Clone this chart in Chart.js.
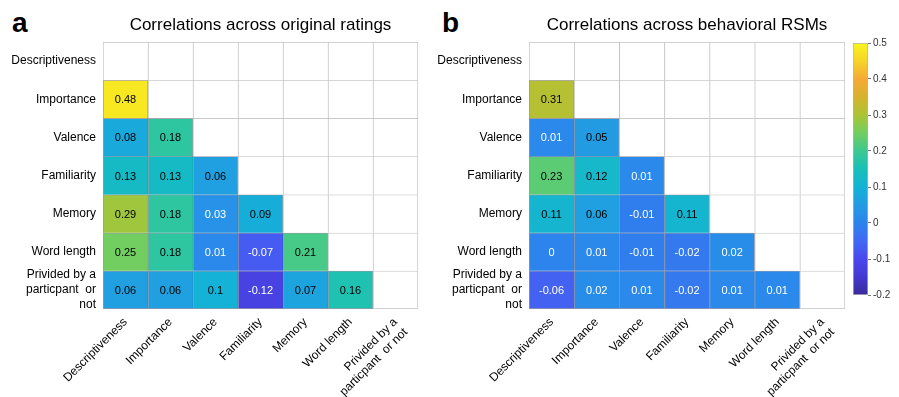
<!DOCTYPE html>
<html>
<head>
<meta charset="utf-8">
<script src="https://cdn.jsdelivr.net/npm/chart.js@4.4.0/dist/chart.umd.min.js"></script>
<style>
  body { margin: 0; background: #fff; width: 899px; height: 397px; position: relative; overflow: hidden;
         font-family: "Liberation Sans", Arial, sans-serif; }
  .box { position: absolute; }
  .letter { position: absolute; font-size: 28px; font-weight: bold; line-height: 28px; color: #000; }
</style>
</head>
<body>
<div class="letter" style="left:12px;top:9px">a</div>
<div class="letter" style="left:442px;top:9px">b</div>
<div class="box" style="left:0;top:0;width:430px;height:397px"><canvas id="chart-a"></canvas></div>
<div class="box" style="left:430px;top:0;width:425px;height:397px"><canvas id="chart-b"></canvas></div>
<div class="box" style="left:840px;top:30px;width:59px;height:280px"><canvas id="chart-cbar"></canvas></div>
<script>
var rowLabels = ['Descriptiveness', 'Importance', 'Valence', 'Familiarity', 'Memory', 'Word length',
    ['Privided by a', 'particpant  or', 'not']];
var colLabels = ['Descriptiveness', 'Importance', 'Valence', 'Familiarity', 'Memory', 'Word length',
    ['Privided by a', 'particpant  or not']];

// lower triangle only, row i has i values
var ratingsCorr = [
    [],
    [0.48],
    [0.08, 0.18],
    [0.13, 0.13, 0.06],
    [0.29, 0.18, 0.03, 0.09],
    [0.25, 0.18, 0.01, -0.07, 0.21],
    [0.06, 0.06, 0.1, -0.12, 0.07, 0.16]
];
var rsmCorr = [
    [],
    [0.31],
    [0.01, 0.05],
    [0.23, 0.12, 0.01],
    [0.11, 0.06, -0.01, 0.11],
    [0, 0.01, -0.01, -0.02, 0.02],
    [-0.06, 0.02, 0.01, -0.02, 0.01, 0.01]
];

var cbarTicks = [-0.2, -0.1, 0, 0.1, 0.2, 0.3, 0.4, 0.5];
var cmin = -0.2, cmax = 0.5;

// parula-like colour stops [value, r, g, b]
var cmapStops = [
    [-0.2, 58, 42, 152], [-0.15, 68, 56, 210], [-0.1, 74, 72, 236], [-0.05, 66, 104, 244],
    [0, 44, 132, 236], [0.05, 35, 155, 227], [0.1, 20, 178, 214], [0.15, 24, 192, 184],
    [0.2, 60, 200, 145], [0.25, 114, 206, 96], [0.3, 172, 196, 52], [0.35, 215, 178, 46],
    [0.4, 245, 170, 52], [0.45, 246, 212, 40], [0.5, 248, 245, 30]
];

function colour(v) {
    if (v <= cmapStops[0][0]) v = cmapStops[0][0];
    for (var i = 1; i < cmapStops.length; i++) {
        var a = cmapStops[i - 1], b = cmapStops[i];
        if (v <= b[0] || i === cmapStops.length - 1) {
            var t = Math.min(1, (v - a[0]) / (b[0] - a[0]));
            return 'rgb(' + Math.round(a[1] + (b[1] - a[1]) * t) + ',' + Math.round(a[2] + (b[2] - a[2]) * t) + ',' + Math.round(a[3] + (b[3] - a[3]) * t) + ')';
        }
    }
}

Chart.defaults.font.family = '"Liberation Sans", Arial, sans-serif';
Chart.defaults.color = '#000';
Chart.defaults.plugins.tooltip.enabled = false;
Chart.defaults.plugins.legend.display = false;

// writes the value in the middle of every coloured cell
var cellText = {
    id: 'cellText',
    afterDatasetsDraw: function (chart) {
        var ctx = chart.ctx;
        ctx.save();
        ctx.font = '11px "Liberation Sans", Arial, sans-serif';
        ctx.textAlign = 'center';
        ctx.textBaseline = 'middle';
        chart.data.datasets.forEach(function (ds, i) {
            if (!ds.values) return;
            chart.getDatasetMeta(i).data.forEach(function (bar, c) {
                var v = ds.values[c];
                if (v === undefined) return;
                var p = bar.getCenterPoint();
                ctx.fillStyle = v < 0.04 ? '#fff' : '#000';
                ctx.fillText(String(v), p.x, p.y + 1);
            });
        });
        ctx.restore();
    }
};

function buildDatasets(vals) {
    var n = colLabels.length;
    var sets = [];
    // blank cells first so the darker borders of coloured cells end up on top
    for (var r = 0; r < n; r++) {
        var d = [];
        for (var c = 0; c < n; c++) d.push(c >= r ? [r, r + 1] : null);
        sets.push({
            data: d,
            backgroundColor: '#fff',
            borderColor: '#c2c2c2',
            borderWidth: (function (row) {
                return function (ctx) {
                    return { left: 1, top: 1, right: ctx.dataIndex === n - 1 ? 1 : 0, bottom: row === n - 1 ? 1 : 0 };
                };
            })(r)
        });
    }
    for (var r = 1; r < n; r++) {
        var d = [], bg = [];
        for (var c = 0; c < n; c++) {
            d.push(c < r ? [r, r + 1] : null);
            bg.push(c < r ? colour(vals[r][c]) : 'transparent');
        }
        sets.push({
            data: d,
            values: vals[r],
            backgroundColor: bg,
            borderColor: 'rgba(30,30,60,0.45)',
            borderWidth: (function (row) {
                return function (ctx) {
                    return { left: 1, top: 1, right: ctx.dataIndex === row - 1 ? 1 : 0, bottom: row === n - 1 ? 1 : 0 };
                };
            })(r)
        });
    }
    sets.forEach(function (s) {
        s.grouped = false;
        s.borderSkipped = false;
        s.barPercentage = 1;
        s.categoryPercentage = 1;
    });
    return sets;
}

function heatmap(id, title, vals, yWidth, padRight) {
    return new Chart(document.getElementById(id), {
        type: 'bar',
        data: { labels: colLabels, datasets: buildDatasets(vals) },
        plugins: [cellText],
        options: {
            responsive: true,
            maintainAspectRatio: false,
            animation: false,
            layout: { padding: { top: 15, right: padRight, left: 0, bottom: 0 } },
            plugins: {
                title: {
                    display: true,
                    text: title,
                    fullSize: false,
                    color: '#000',
                    font: { size: 17, weight: 'normal' },
                    padding: { top: 0, bottom: 6.6 }
                }
            },
            scales: {
                x: {
                    grid: { display: false, drawTicks: false },
                    border: { display: false },
                    ticks: { minRotation: 45, maxRotation: 45, autoSkip: false, padding: 6, font: { size: 12 } },
                    afterFit: function (s) { s.height = 88; }
                },
                y: {
                    type: 'linear',
                    min: 0,
                    max: rowLabels.length,
                    reverse: true,
                    grid: { display: false, drawTicks: false },
                    border: { display: false },
                    afterBuildTicks: function (s) {
                        s.ticks = rowLabels.map(function (l, i) { return { value: i + 0.5 }; });
                    },
                    ticks: {
                        autoSkip: false,
                        padding: 7,
                        font: { size: 12, lineHeight: 1.25 },
                        callback: function (v, i) { return rowLabels[i]; }
                    },
                    afterFit: function (s) { s.width = yWidth; }
                }
            }
        }
    });
}

heatmap('chart-a', 'Correlations across original ratings', ratingsCorr, 103, 12);
heatmap('chart-b', 'Correlations across behavioral RSMs', rsmCorr, 99, 10);

new Chart(document.getElementById('chart-cbar'), {
    type: 'bar',
    data: {
        labels: [''],
        datasets: [{
            data: [[cmin, cmax]],
            backgroundColor: function (ctx) {
                var chart = ctx.chart;
                if (!chart.chartArea) return '#fff';
                var y = chart.scales.y;
                var g = chart.ctx.createLinearGradient(0, y.getPixelForValue(cmin), 0, y.getPixelForValue(cmax));
                cmapStops.forEach(function (s) {
                    g.addColorStop((s[0] - cmin) / (cmax - cmin), 'rgb(' + s[1] + ',' + s[2] + ',' + s[3] + ')');
                });
                return g;
            },
            borderColor: '#b4b4b4',
            borderWidth: 1,
            borderSkipped: false,
            barPercentage: 1,
            categoryPercentage: 1
        }]
    },
    options: {
        responsive: true,
        maintainAspectRatio: false,
        animation: false,
        layout: { padding: { left: 13, top: 13, bottom: 15, right: 0 } },
        scales: {
            x: { display: false },
            y: {
                position: 'right',
                min: cmin,
                max: cmax,
                afterBuildTicks: function (s) {
                    s.ticks = cbarTicks.map(function (v) { return { value: v }; });
                },
                ticks: {
                    color: '#333',
                    font: { size: 10 },
                    padding: 2,
                    callback: function (v) { return String(Math.round(v * 10) / 10); }
                },
                grid: { drawOnChartArea: false, tickLength: 3, color: '#777' },
                border: { display: false },
                afterFit: function (s) { s.width = 31; }
            }
        }
    }
});
</script>
</body>
</html>
